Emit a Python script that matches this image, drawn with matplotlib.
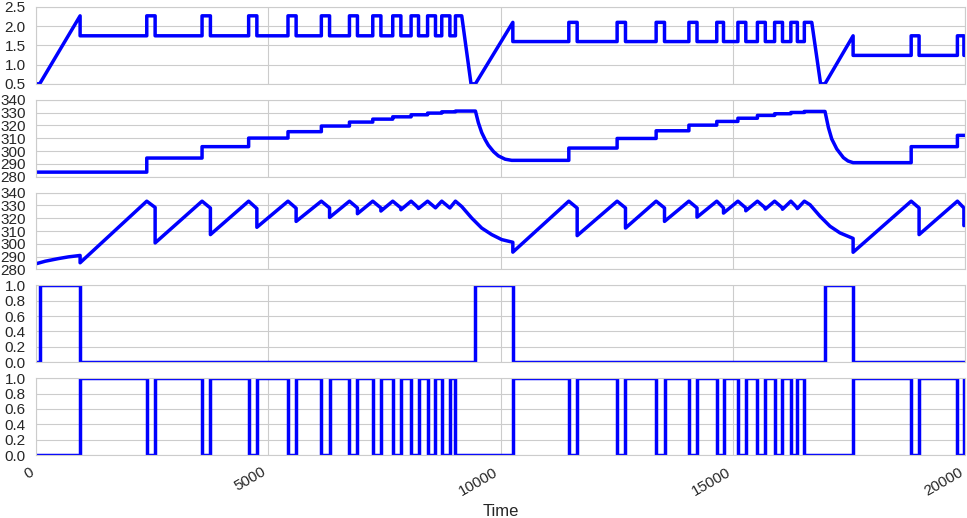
import matplotlib
matplotlib.use("Agg")
import matplotlib.pyplot as plt
import seaborn as sns

# switching events (time units)
refill_start = [80, 9460, 16985]
refill_end = [950, 10265, 17590]
long_off = [9030, 16540]
pulse_on = [2385, 3575, 4578, 5425, 6143, 6748, 7250, 7680, 8075, 8430, 8735,
            11470, 12510, 13350, 14055, 14655, 15110, 15530, 15900, 16250,
            18840, 19835]
pulse_off = [2565, 3755, 4755, 5600, 6320, 6920, 7425, 7855, 8235, 8600, 8910,
             11650, 12690, 13530, 14230, 14800, 15280, 15700, 16070, 16390,
             19010, 19975]
t_end = 20000

# panel 1: level
level_low = 0.5
level_base = [1.75, 1.6, 1.24]
level_high = [2.27, 2.1, 1.75]
fall_start = [9165, 16700]
fall_end = [9365, 16890]

# panel 2: step values after each pulse_on / long_off event
p_start = 283.5
p_levels = [294.5, 303.4, 310.1, 315.1, 319.5, 322.6, 324.9, 326.7, 328.3, 329.6, 330.6, 331.2,
            302.3, 309.8, 315.8, 320.2, 323.1, 325.6, 327.8, 329.1, 330.1, 330.9,
            303.4, 312.2]
p_decay_t = [[9460, 9523, 9595, 9670, 9738, 9850, 9953, 10100, 10240],
             [16985, 17058, 17130, 17238, 17381, 17480, 17590]]
p_decay_v = [[331.2, 322.1, 314.4, 308.8, 304.5, 299.5, 296.2, 293.6, 292.7],
             [330.9, 318.4, 309.4, 301.6, 294.8, 292.2, 290.9]]

# panel 3: temperature
temp_start_t = [0, 200, 475, 700, 950]
temp_start_v = [284.4, 286.4, 288.4, 289.8, 290.9]
temp_peak = 333.3
temp_pre_drop = [328.4, 327.9, 327.5, 327.8, 328.0, 328.0, 328.0, 328.0, 328.0, 328.1, 328.0,
                 327.9, 328.0, 328.0, 328.0, 328.0, 328.0, 328.0, 328.0, 328.0,
                 328.0, 328.0]
temp_low = [300.7, 307.2, 312.9, 317.5, 320.6, 323.5, 325.6, 326.6, 327.6, 328.1, 328.0,
            306.4, 312.3, 317.5, 320.8, 324.0, 325.8, 327.1, 327.0, 327.5,
            307.2, 314.2]
cool_t = [[9030, 9165, 9380, 9595, 9810, 10025, 10265],
          [16540, 16663, 16878, 17093, 17308, 17590]]
cool_v = [[333.3, 329.1, 320.1, 312.3, 307.2, 303.3, 301.2],
          [333.3, 330.5, 321.5, 313.7, 308.5, 304.2]]
refill_temp = [285.2, 293.5, 293.4]
temp_final = 315.0

pulses = list(zip(pulse_on, pulse_off))

# panel 1
lvl_t = [0, refill_start[0]]
lvl_v = [level_low, level_low]
for seg in range(3):
    base, high = level_base[seg], level_high[seg]
    lvl_t += [refill_end[seg], refill_end[seg]]
    lvl_v += [high, base]
    stop = long_off[seg] if seg < 2 else t_end
    for on, off in pulses:
        if refill_end[seg] < on < stop:
            lvl_t += [on, on, off, off]
            lvl_v += [base, high, high, base]
    if seg < 2:
        lvl_t += [long_off[seg], long_off[seg], fall_start[seg], fall_end[seg], refill_start[seg + 1]]
        lvl_v += [base, high, high, level_low, level_low]
lvl_t.append(t_end)
lvl_v.append(level_base[2])

# panel 2
events = sorted(pulse_on + long_off)
pr_t, pr_v = [0], [p_start]
prev = p_start
for t, v in zip(events, p_levels):
    pr_t += [t, t]
    pr_v += [prev, v]
    prev = v
    if t in long_off:
        k = long_off.index(t)
        pr_t += p_decay_t[k]
        pr_v += p_decay_v[k]
        prev = p_decay_v[k][-1]
pr_t.append(t_end)
pr_v.append(prev)

# panel 3
tp_t = list(temp_start_t) + [refill_end[0]]
tp_v = list(temp_start_v) + [refill_temp[0]]
for t in events:
    if t in long_off:
        k = long_off.index(t)
        tp_t += cool_t[k] + [refill_end[k + 1]]
        tp_v += cool_v[k] + [refill_temp[k + 1]]
    else:
        i = pulse_on.index(t)
        tp_t += [t, pulse_off[i], pulse_off[i]]
        tp_v += [temp_peak, temp_pre_drop[i], temp_low[i]]
tp_t.append(t_end)
tp_v.append(temp_final)

# panel 4 / 5 switch signals
sw1_t = [0] + sorted(refill_start + refill_end) + [t_end]
sw1_v = [0] + [1, 0] * 3 + [0]
sw2 = sorted([(0, 0)] + [(t, 1) for t in refill_end] + [(t, 0) for t in pulse_on + long_off]
             + [(t, 1) for t in pulse_off])
sw2_t = [t for t, _ in sw2] + [t_end]
sw2_v = [v for _, v in sw2] + [sw2[-1][1]]

sns.set_style("whitegrid")
plt.rcParams["font.family"] = ["Liberation Sans", "DejaVu Sans"]
plt.rcParams["xtick.labelsize"] = 11
plt.rcParams["ytick.labelsize"] = 11
plt.rcParams["axes.labelsize"] = 12

fig, axes = plt.subplots(5, 1, sharex=True, figsize=(9.67, 5.18), dpi=100)
fig.subplots_adjust(left=0.0372, right=0.998, top=0.9865, bottom=0.1216, hspace=0.208)

lw = 2.5
axes[0].plot(lvl_t, lvl_v, color="b", lw=lw)
axes[0].set_ylim(0.5, 2.5)
axes[0].set_yticks([0.5, 1.0, 1.5, 2.0, 2.5])

axes[1].plot(pr_t, pr_v, color="b", lw=lw)
axes[1].set_ylim(280, 340)
axes[1].set_yticks(range(280, 341, 10))

axes[2].plot(tp_t, tp_v, color="b", lw=lw)
axes[2].set_ylim(280, 340)
axes[2].set_yticks(range(280, 341, 10))

axes[3].plot(sw1_t, sw1_v, color="b", lw=lw, drawstyle="steps-post")
axes[4].plot(sw2_t, sw2_v, color="b", lw=lw, drawstyle="steps-post")
for ax in axes[3:]:
    ax.set_ylim(0, 1)
    ax.set_yticks([0.0, 0.2, 0.4, 0.6, 0.8, 1.0])

for ax in axes:
    ax.set_xlim(0, 20000)
    ax.tick_params(axis="y", pad=4)
axes[-1].set_xticks([0, 5000, 10000, 15000, 20000])
axes[-1].set_xlabel("Time")
for lab in axes[-1].get_xticklabels():
    lab.set_rotation(30)
    lab.set_ha("right")

fig.savefig("out.png", dpi=100)
